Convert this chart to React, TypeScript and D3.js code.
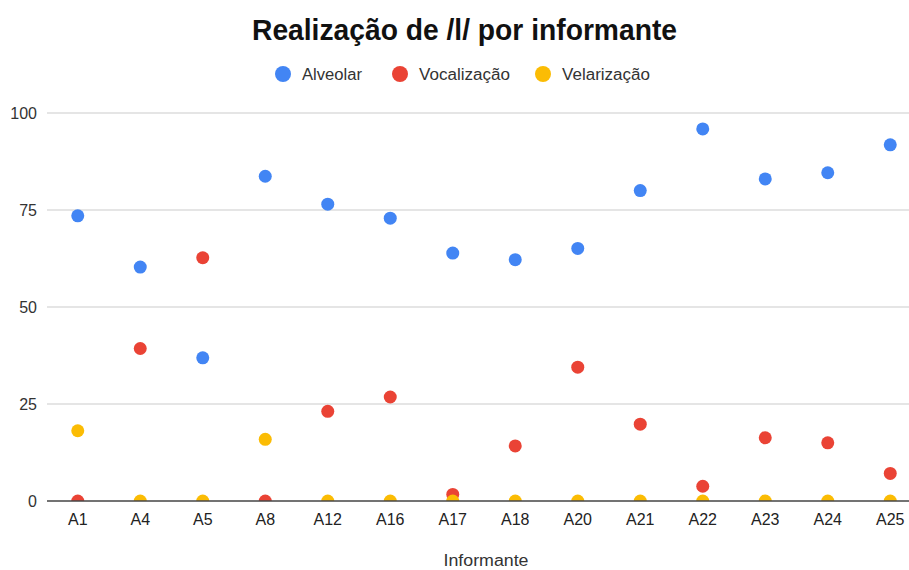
import React from "react";
import * as d3 from "d3";

const categories = ["A1", "A4", "A5", "A8", "A12", "A16", "A17", "A18", "A20", "A21", "A22", "A23", "A24", "A25"];
const alveolar = [73.5, 60.3, 36.9, 83.7, 76.5, 72.9, 63.9, 62.2, 65.1, 80.0, 95.9, 83.0, 84.6, 91.8];
const vocalizacao = [0, 39.3, 62.7, 0, 23.1, 26.8, 1.7, 14.2, 34.5, 19.8, 3.8, 16.3, 15.0, 7.1];
const velarizacao = [18.1, 0, 0, 15.9, 0, 0, 0, 0, 0, 0, 0, 0, 0, 0];
const yTicks = [0, 25, 50, 75, 100];
const seriesNames = ["Alveolar", "Vocalização", "Velarização"];
const seriesColors = ["#4285F4", "#EA4335", "#FBBC04"];

const W = 909;
const H = 570;
const FONT = "'Liberation Sans', Arial, sans-serif";

export default function App() {
  const x = d3.scaleBand<string>().domain(categories).range([46.5, 921.5]);
  const y = d3.scaleLinear().domain([0, 100]).range([501, 113]);
  const series = [alveolar, vocalizacao, velarizacao];
  const cx = (c: string) => (x(c) ?? 0) + x.bandwidth() / 2;
  const legendX = [283, 400, 543];
  const legendW = [60, 91, 88];

  return (
    <svg width={W} height={H} style={{ position: "absolute", left: 0, top: 0, background: "#fff" }} fontFamily={FONT}>
      <rect width={W} height={H} fill="#fff" />
      <text x={252} y={40} fontSize={29} fontWeight="bold" fill="#111" textLength={425} lengthAdjust="spacingAndGlyphs">
        Realização de /l/ por informante
      </text>
      {seriesNames.map((n, i) => (
        <g key={n}>
          <circle cx={legendX[i]} cy={74} r={8} fill={seriesColors[i]} />
          <text x={legendX[i] + 19} y={80} fontSize={16} fill="#333" textLength={legendW[i]} lengthAdjust="spacingAndGlyphs">{n}</text>
        </g>
      ))}
      <defs>
        <clipPath id="plotClip">
          <rect x={30} y={90} width={900} height={411} />
        </clipPath>
      </defs>
      {yTicks.map((t) => (
        <g key={t}>
          {t !== 0 && <line x1={47} x2={W} y1={y(t)} y2={y(t)} stroke="#dcdcdc" strokeWidth={1.5} />}
          <text x={37} y={y(t) + 6} textAnchor="end" fontSize={16} fill="#333">{t}</text>
        </g>
      ))}
      <g clipPath="url(#plotClip)">
        {series.map((vals, si) =>
          vals.map((v, i) => (
            <circle key={`${si}-${i}`} cx={cx(categories[i])} cy={y(v)} r={6.5} fill={seriesColors[si]} />
          ))
        )}
      </g>
      <line x1={47} x2={W} y1={y(0)} y2={y(0)} stroke="#444" strokeWidth={1.5} />
      {categories.map((c) => (
        <text key={c} x={cx(c)} y={525} textAnchor="middle" fontSize={16} fill="#222">{c}</text>
      ))}
      <text x={486} y={566} textAnchor="middle" fontSize={16} fill="#333" textLength={85} lengthAdjust="spacingAndGlyphs">Informante</text>
    </svg>
  );
}
